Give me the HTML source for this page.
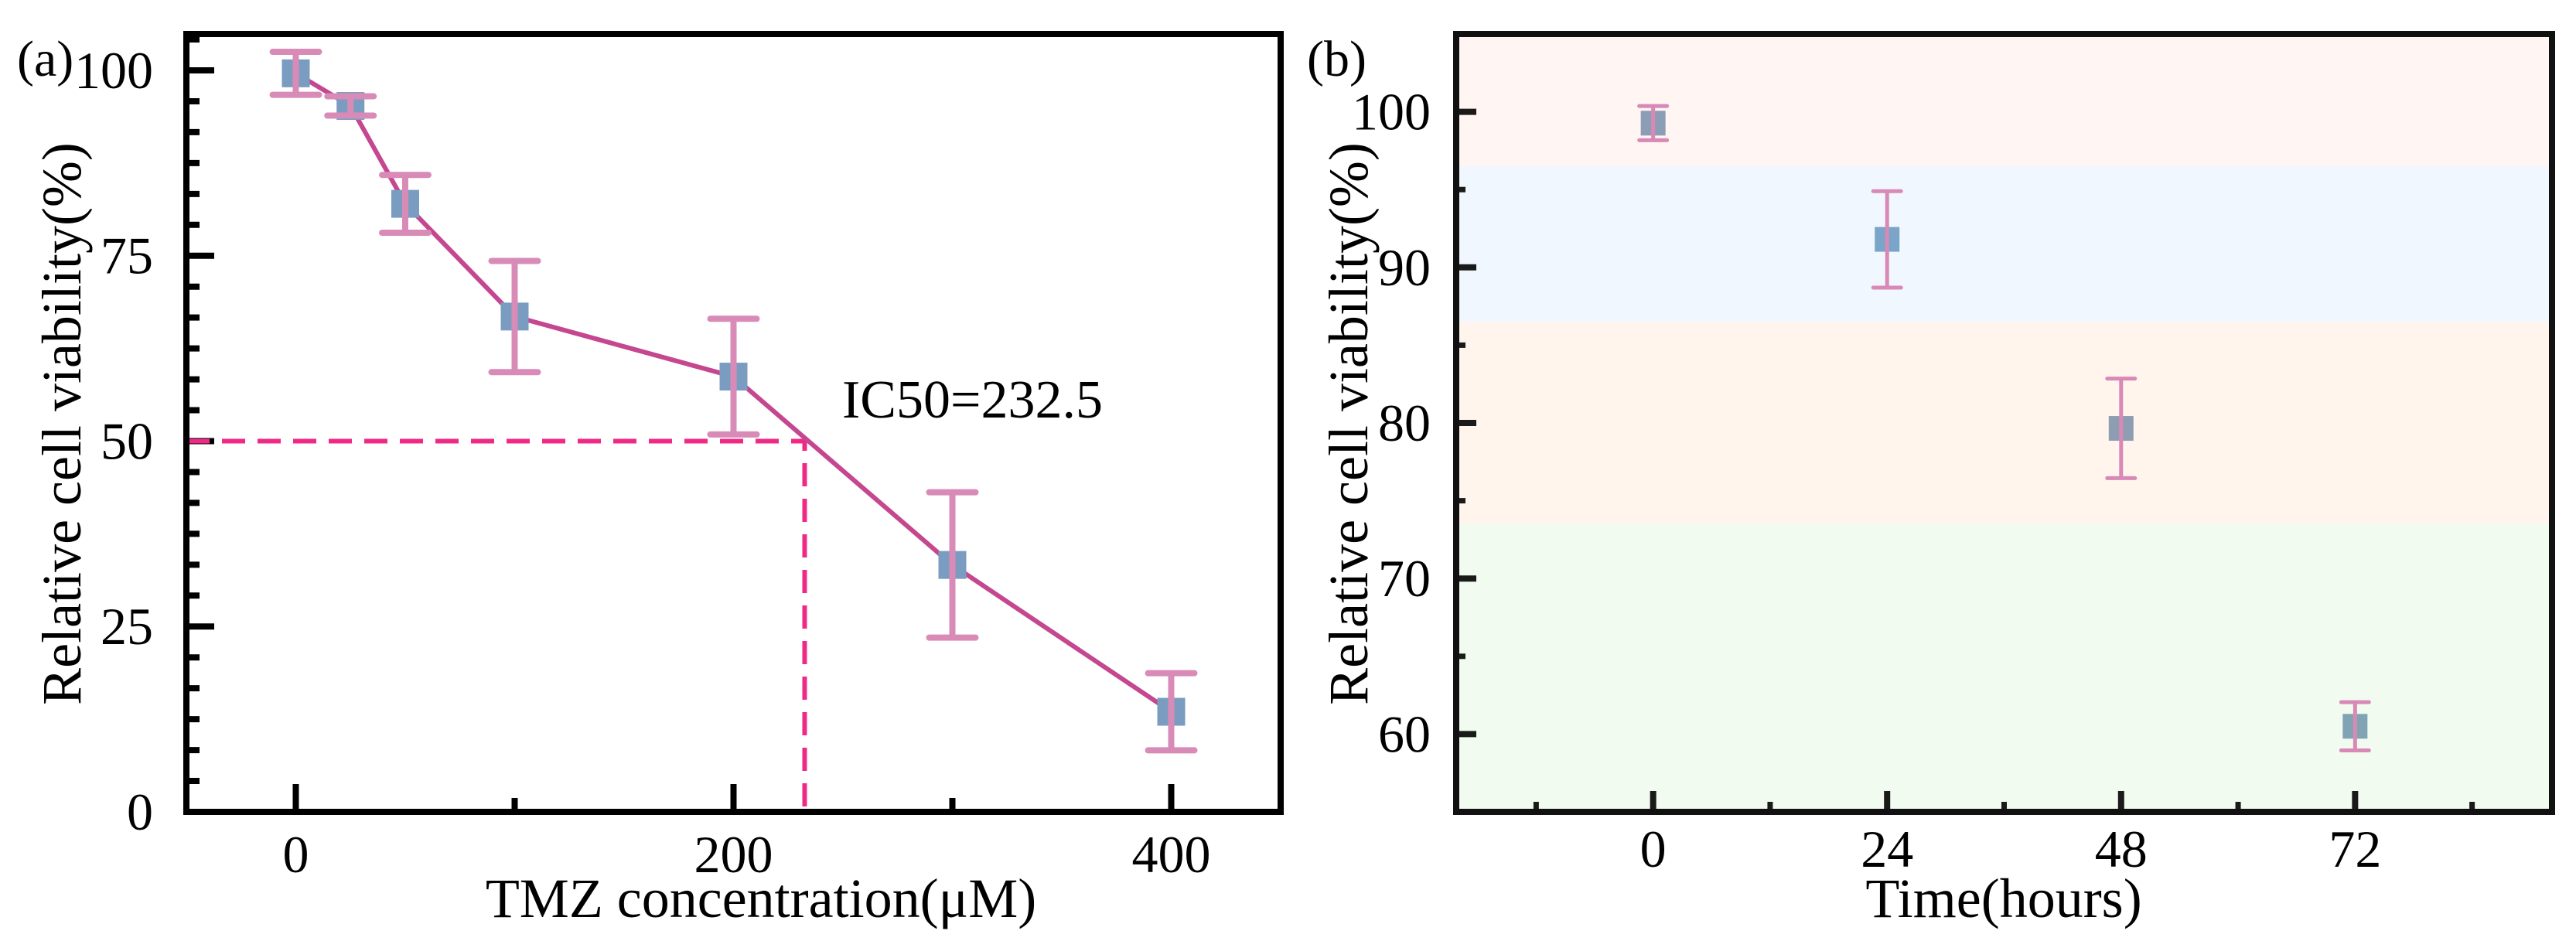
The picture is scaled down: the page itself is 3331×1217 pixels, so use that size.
<!DOCTYPE html>
<html><head><meta charset="utf-8"><style>
html,body{margin:0;padding:0;background:#fff;}
svg{display:block;font-family:"Liberation Serif",serif;}
</style></head>
<body>
<svg id="chart" width="3331" height="1217" viewBox="0 0 3331 1217" xmlns="http://www.w3.org/2000/svg">
<g id="pa"></g>
<g id="pb"></g>
</svg>
<script>
// Panel A data
const concA = [0, 25, 50, 100, 200, 300, 400];
const viabA = [99.6, 95.2, 82.0, 66.8, 58.7, 33.3, 13.5];
const errA = [2.9, 1.3, 3.9, 7.5, 7.8, 9.8, 5.2];
const xTicksA = [0, 200, 400];
const xMinorA = [100, 300];
const yTicksA = [0, 25, 50, 75, 100];
const ic50 = 232.5;
// Panel B data
const timeB = [0, 24, 48, 72];
const viabB = [99.27, 91.8, 79.65, 60.5];
const errB = [1.1, 3.1, 3.2, 1.55];
const markerColorsB = ['#8c9db6', '#7ba4c9', '#8e9db1', '#80a4b4'];
const xTicksB = [0, 24, 48, 72];
const xMinorB = [-12, 12, 36, 60, 84];
const yTicksB = [60, 70, 80, 90, 100];
const yMinorB = [65, 75, 85, 95];
const bandEdgesB = [105, 96.5, 86.5, 73.5, 55];
const bandColorsB = ['#fff5f3', '#f1f7fe', '#fff5ed', '#f1fbf0'];

const NS = 'http://www.w3.org/2000/svg';
function mk(parent, tag, attrs, text) {
  const e = document.createElementNS(NS, tag);
  for (const k in attrs) e.setAttribute(k, attrs[k]);
  if (text !== undefined) e.textContent = text;
  parent.appendChild(e);
  return e;
}

// ---------- Panel A ----------
const pa = document.getElementById('pa');
const A = {l: 241, r: 1656, t: 44, b: 1050, x0: -50, x1: 450, y0: 0, y1: 104.9};
const xa = v => A.l + (v - A.x0) / (A.x1 - A.x0) * (A.r - A.l);
const ya = v => A.b - (v - A.y0) / (A.y1 - A.y0) * (A.b - A.t);

// minor y ticks every 25/6
for (let i = 1; i * 25 / 6 < A.y1; i++) {
  const v = i * 25 / 6;
  if (i % 6 === 0) continue;
  const t = mk(pa, 'line', {x1: A.l, x2: A.l + 17, y1: ya(v), y2: ya(v), stroke: '#000', 'stroke-width': 8});
  
  
}
yTicksA.forEach(v => {
  const t = mk(pa, 'line', {x1: A.l, x2: A.l + 36, y1: ya(v), y2: ya(v), stroke: '#000', 'stroke-width': 8});
  
  
  const lb = mk(pa, 'text', {x: 198, y: ya(v) + 23, 'text-anchor': 'end', 'font-size': 68}, String(v));
  
  
});
xTicksA.forEach(v => {
  const t = mk(pa, 'line', {x1: xa(v), x2: xa(v), y1: A.b, y2: A.b - 36, stroke: '#000', 'stroke-width': 8});
  
  
  const lb = mk(pa, 'text', {x: xa(v), y: 1128, 'text-anchor': 'middle', 'font-size': 68}, String(v));
  
  
});
xMinorA.forEach(v => {
  const t = mk(pa, 'line', {x1: xa(v), x2: xa(v), y1: A.b, y2: A.b - 18, stroke: '#000', 'stroke-width': 8});
  
  
});
// IC50 dashed guides
const dh = mk(pa, 'polyline', {points: `${A.l},${ya(50)} ${xa(ic50)},${ya(50)} ${xa(ic50)},${A.b}`, fill: 'none', stroke: '#ef2a86', 'stroke-width': 6, 'stroke-dasharray': '30 16'});


// connecting line
const linePts = concA.map((c, i) => `${xa(c)},${ya(viabA[i])}`).join(' ');
const ln = mk(pa, 'polyline', {points: linePts, fill: 'none', stroke: '#c4478f', 'stroke-width': 6});


concA.forEach((c, i) => {
  const x = xa(c), y = ya(viabA[i]), hi = ya(viabA[i] + errA[i]), lo = ya(viabA[i] - errA[i]);
  const g = mk(pa, 'g', {});
  
  
  mk(g, 'rect', {x: x - 18, y: y - 18, width: 36, height: 36, fill: '#7a9cc0'});
  const eb = mk(g, 'path', {d: `M${x},${hi}V${lo}M${x - 30},${hi}H${x + 30}M${x - 30},${lo}H${x + 30}`, stroke: '#d98bb8', 'stroke-width': 8, 'stroke-linecap': 'round', fill: 'none'});
  
  
});
const box = mk(pa, 'rect', {x: A.l, y: A.t, width: A.r - A.l, height: A.b - A.t, fill: 'none', stroke: '#000', 'stroke-width': 8});


const ict = mk(pa, 'text', {x: 1089, y: 540, 'font-size': 70}, 'IC50=232.5');


const la = mk(pa, 'text', {x: 22, y: 98, 'font-size': 66}, '(a)');


const yta = mk(pa, 'text', {x: 0, y: 0, 'font-size': 72, 'text-anchor': 'middle', transform: 'translate(104,548) rotate(-90)'}, 'Relative cell viability(%)');


const xta = mk(pa, 'text', {x: 984, y: 1186, 'font-size': 72, 'text-anchor': 'middle'}, 'TMZ concentration(μM)');



// ---------- Panel B ----------
const pb = document.getElementById('pb');
const B = {l: 1883, r: 3300, t: 44, b: 1050, x0: -20.2, x1: 92.2, y0: 55, y1: 105};
const xb = v => B.l + (v - B.x0) / (B.x1 - B.x0) * (B.r - B.l);
const yb = v => B.b - (v - B.y0) / (B.y1 - B.y0) * (B.b - B.t);
bandColorsB.forEach((c, i) => {
  const r = mk(pb, 'rect', {x: B.l, y: yb(bandEdgesB[i]), width: B.r - B.l, height: yb(bandEdgesB[i + 1]) - yb(bandEdgesB[i]), fill: c});
  
  
});
yTicksB.forEach(v => {
  const t = mk(pb, 'line', {x1: B.l, x2: B.l + 26, y1: yb(v), y2: yb(v), stroke: '#1a1a1a', 'stroke-width': 8});
  
  
  const lb = mk(pb, 'text', {x: 1850, y: yb(v) + 23, 'text-anchor': 'end', 'font-size': 68}, String(v));
  
  
});
yMinorB.forEach(v => {
  const t = mk(pb, 'line', {x1: B.l, x2: B.l + 12, y1: yb(v), y2: yb(v), stroke: '#1a1a1a', 'stroke-width': 7});
  
  
});
xTicksB.forEach(v => {
  const t = mk(pb, 'line', {x1: xb(v), x2: xb(v), y1: B.b, y2: B.b - 27, stroke: '#1a1a1a', 'stroke-width': 8});
  
  
  const lb = mk(pb, 'text', {x: xb(v), y: 1121, 'text-anchor': 'middle', 'font-size': 68}, String(v));
  
  
});
xMinorB.forEach(v => {
  const t = mk(pb, 'line', {x1: xb(v), x2: xb(v), y1: B.b, y2: B.b - 13, stroke: '#1a1a1a', 'stroke-width': 7});
  
  
});
timeB.forEach((c, i) => {
  const x = xb(c), y = yb(viabB[i]), hi = yb(viabB[i] + errB[i]), lo = yb(viabB[i] - errB[i]);
  const g = mk(pb, 'g', {});
  
  
  mk(g, 'rect', {x: x - 16, y: y - 16, width: 32, height: 32, fill: markerColorsB[i]});
  const eb = mk(g, 'path', {d: `M${x},${hi}V${lo}M${x - 18},${hi}H${x + 18}M${x - 18},${lo}H${x + 18}`, stroke: '#d889b5', 'stroke-width': 5, 'stroke-linecap': 'round', fill: 'none'});
  
  
});
const boxb = mk(pb, 'rect', {x: B.l, y: B.t, width: B.r - B.l, height: B.b - B.t, fill: 'none', stroke: '#111', 'stroke-width': 8});


const lbb = mk(pb, 'text', {x: 1690, y: 98, 'font-size': 66}, '(b)');


const ytb = mk(pb, 'text', {x: 0, y: 0, 'font-size': 72, 'text-anchor': 'middle', transform: 'translate(1768,548) rotate(-90)'}, 'Relative cell viability(%)');


const xtb = mk(pb, 'text', {x: 2591, y: 1186, 'font-size': 72, 'text-anchor': 'middle'}, 'Time(hours)');


</script>
</body></html>
